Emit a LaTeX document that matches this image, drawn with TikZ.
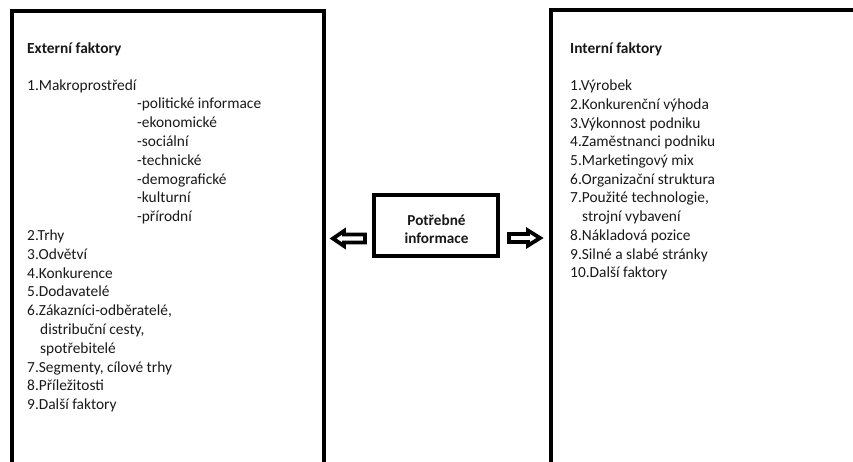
\documentclass[tikz,border=0pt]{standalone}
\usepackage{fontspec}
\setmainfont{Carlito}
\begin{document}
\begin{tikzpicture}[x=1pt,y=-1pt,line join=miter,
  frame/.style={line width=4pt,draw=black},
  blockarrow/.style={line width=3.8pt,draw=black,fill=white,line join=miter},
  txt/.style={anchor=base west,inner sep=0pt,font=\fontsize{15.4}{18}\selectfont,text=black!90},
  ttl/.style={txt,font=\fontsize{15.4}{18}\selectfont\bfseries},
  ctxt/.style={anchor=base,inner sep=0pt,font=\fontsize{15.2}{18}\selectfont\bfseries,text=black!90}]
\useasboundingbox (0,0) rectangle (853,461);
\clip (0,0) rectangle (853,461);
\fill[white] (0,0) rectangle (853,461);
% frames
\draw[frame] (12,470) -- (12,11) -- (324,11) -- (324,470);
\draw[frame] (551,470) -- (551,10) -- (860,10);
\node[frame,minimum width=124pt,minimum height=61pt,inner sep=0pt] (mid) at (436,225.5) {};
% arrows
\draw[blockarrow] (333,238.5) -- (344,231) -- (344,234.5) -- (365,234.5) -- (365,242.5) -- (344,242.5) -- (344,246) -- cycle;
\draw[blockarrow] (540,238) -- (528,230.5) -- (528,234) -- (509,234) -- (509,242) -- (528,242) -- (528,245.5) -- cycle;
% middle text
\node[ctxt] (m1) at (436.5,225) {Potřebné};
\node[ctxt] (m2) at (436.5,243) {informace};
% left text
\node[ttl] (lt) at (27,53) {Externí faktory};
\def\ls{18.8}
\node[txt] (l0) at (27,90) {1.Makroprostředí};
\foreach \t [count=\i] in {-politické informace,-ekonomické,-sociální,-technické,-demografické,-kulturní,-přírodní}
  \node[txt] (s\i) at (137,90+\i*\ls) {\t};
\node[txt] (l8) at (27,90+8*\ls) {2.Trhy};
\node[txt] (l9) at (27,90+9*\ls) {3.Odvětví};
\node[txt] (l10) at (27,90+10*\ls) {4.Konkurence};
\node[txt] (l11) at (27,90+11*\ls) {5.Dodavatelé};
\node[txt] (l12) at (27,90+12*\ls) {6.Zákazníci-odběratelé,};
\node[txt] (l13) at (40,90+13*\ls) {distribuční cesty,};
\node[txt] (l14) at (40,90+14*\ls) {spotřebitelé};
\node[txt] (l15) at (27,90+15*\ls) {7.Segmenty, cílové trhy};
\node[txt] (l16) at (27,90+16*\ls) {8.Příležitosti};
\node[txt] (l17) at (27,90+17*\ls) {9.Další faktory};
% right text
\node[ttl] (rt) at (570,53) {Interní faktory};
\def\rs{18.7}
\node[txt] (r0) at (570,90.7) {1.Výrobek};
\node[txt] (r1) at (570,90.7+1*\rs) {2.Konkurenční výhoda};
\node[txt] (r2) at (570,90.7+2*\rs) {3.Výkonnost podniku};
\node[txt] (r3) at (570,90.7+3*\rs) {4.Zaměstnanci podniku};
\node[txt] (r4) at (570,90.7+4*\rs) {5.Marketingový mix};
\node[txt] (r5) at (570,90.7+5*\rs) {6.Organizační struktura};
\node[txt] (r6) at (570,90.7+6*\rs) {7.Použité technologie,};
\node[txt] (r7) at (582,90.7+7*\rs) {strojní vybavení};
\node[txt] (r8) at (570,90.7+8*\rs) {8.Nákladová pozice};
\node[txt] (r9) at (570,90.7+9*\rs) {9.Silné a slabé stránky};
\node[txt] (r10) at (570,90.7+10*\rs) {10.Další faktory};
\end{tikzpicture}
\end{document}
